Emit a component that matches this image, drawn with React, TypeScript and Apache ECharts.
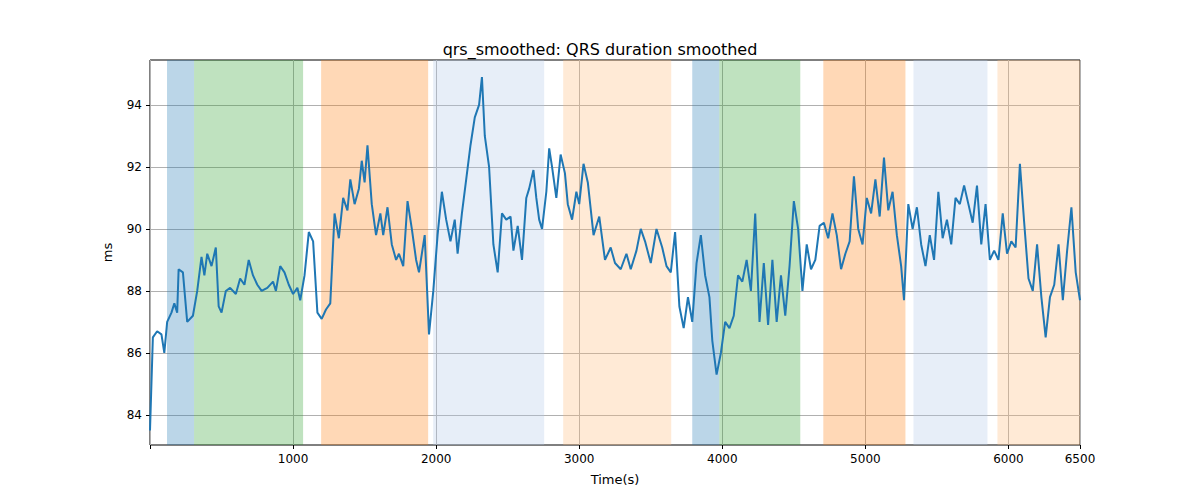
import React, { useEffect, useRef } from "react";
import * as echarts from "echarts";

const times = [0,20,50,80,100,120,150,170,190,200,230,260,300,330,360,380,400,430,460,480,500,530,560,600,630,660,690,720,750,780,820,860,880,910,940,970,1000,1030,1050,1080,1110,1140,1170,1200,1230,1260,1290,1320,1350,1380,1400,1430,1460,1480,1500,1520,1550,1580,1610,1630,1660,1690,1720,1740,1770,1800,1830,1860,1880,1920,1950,1980,2010,2040,2070,2100,2130,2150,2180,2210,2240,2270,2300,2320,2340,2370,2400,2430,2460,2490,2520,2540,2570,2600,2630,2650,2680,2700,2720,2740,2770,2790,2810,2840,2870,2900,2920,2950,2980,3000,3030,3060,3100,3140,3180,3220,3250,3290,3330,3360,3400,3430,3460,3500,3540,3580,3610,3640,3670,3700,3730,3760,3790,3820,3850,3880,3910,3930,3960,3990,4020,4050,4080,4110,4140,4170,4200,4230,4260,4290,4320,4350,4380,4410,4440,4470,4500,4530,4560,4590,4620,4650,4680,4710,4740,4770,4800,4830,4860,4890,4920,4950,4980,5010,5040,5070,5100,5130,5160,5190,5220,5250,5270,5300,5330,5360,5390,5420,5450,5480,5510,5540,5570,5600,5630,5660,5690,5720,5750,5780,5810,5840,5870,5900,5930,5960,5990,6020,6050,6080,6110,6140,6170,6200,6230,6260,6290,6320,6350,6380,6410,6440,6470,6500];
const qrs = [83.5,86.5,86.7,86.6,86.0,87.0,87.3,87.6,87.3,88.7,88.6,87.0,87.2,88.0,89.1,88.5,89.2,88.8,89.4,87.5,87.3,88.0,88.1,87.9,88.4,88.2,89.0,88.5,88.2,88.0,88.1,88.3,88.0,88.8,88.6,88.2,87.9,88.1,87.7,88.5,89.9,89.6,87.3,87.1,87.4,87.6,90.5,89.7,91.0,90.6,91.6,90.8,91.3,92.2,91.5,92.7,90.8,89.8,90.5,89.8,90.7,89.5,89.0,89.2,88.8,90.9,90.0,89.0,88.6,89.8,86.6,88.0,89.8,91.2,90.3,89.6,90.3,89.2,90.5,91.6,92.7,93.6,94.0,94.9,93.0,92.0,89.5,88.6,90.5,90.3,90.4,89.3,90.1,89.0,91.0,91.3,91.9,91.0,90.3,90.0,91.2,92.6,92.0,91.0,92.4,91.8,90.8,90.3,91.2,90.8,92.1,91.5,89.8,90.4,89.0,89.4,88.9,88.7,89.2,88.7,89.3,90.0,89.6,88.9,90.0,89.4,88.8,88.6,89.9,87.5,86.8,87.8,87.0,88.9,89.8,88.5,87.8,86.4,85.3,86.0,87.0,86.8,87.2,88.5,88.3,89.0,88.0,90.5,87.0,88.9,86.9,89.0,87.0,88.5,87.2,88.8,90.9,90.0,88.0,89.5,88.7,89.0,90.1,90.2,89.7,90.5,89.8,88.7,89.2,89.6,91.7,90.0,89.5,91.0,90.5,91.6,90.4,92.3,90.6,91.2,89.8,88.8,87.7,90.8,90.0,90.7,89.5,88.8,89.8,89.0,91.2,89.7,90.3,89.5,91.0,90.8,91.4,90.8,90.2,91.4,89.5,90.8,89.0,89.3,89.0,90.5,89.2,89.6,89.4,92.1,90.2,88.4,88.0,89.5,87.8,86.5,87.8,88.2,89.5,87.7,89.3,90.7,88.6,87.7];

const bandStarts = [119,308,1196,1979,2888,3790,3979,4706,5336,5923];
const bandEnds = [308,1070,1944,2755,3643,3979,4545,5280,5853,6500];
const bandColors = ["rgba(31,119,180,0.3)","rgba(44,160,44,0.3)","rgba(255,127,14,0.3)","rgba(174,199,232,0.3)","rgba(255,187,120,0.3)","rgba(31,119,180,0.3)","rgba(44,160,44,0.3)","rgba(255,127,14,0.3)","rgba(174,199,232,0.3)","rgba(255,187,120,0.3)"];
const yTicks = [84,86,88,90,92,94];

export default function App() {
  const ref = useRef<HTMLDivElement>(null);
  useEffect(() => {
    document.body.style.margin = "0";
    const chart = echarts.init(ref.current!, null, { renderer: "svg" });
    const font = "DejaVu Sans";
    chart.setOption({
      animation: false,
      textStyle: { fontFamily: font },
      title: { text: "qrs_smoothed: QRS duration smoothed", left: "center", top: 36, textStyle: { fontSize: 16, fontWeight: "normal", color: "#000", fontFamily: font } },
      grid: { left: 150, right: 120, top: 60, bottom: 55, show: true, borderColor: "#000", borderWidth: 1 },
      xAxis: {
        type: "value", min: 0, max: 6500, interval: 1000,
        name: "Time(s)", nameLocation: "middle", nameGap: 28, nameTextStyle: { fontSize: 13, color: "#000" },
        axisLine: { show: false }, axisTick: { show: true, length: 4, lineStyle: { color: "#000" } },
        axisLabel: { color: "#000", fontSize: 12, formatter: (v: number) => (v === 0 ? "" : String(v)) },
        splitLine: { show: true, lineStyle: { color: "#b0b0b0", width: 1 } },
      },
      yAxis: {
        type: "value", min: 83.03, max: 95.45,
        name: "ms", nameLocation: "middle", nameGap: 36, nameTextStyle: { fontSize: 13, color: "#000" },
        axisLine: { show: false },
        axisTick: { show: true, length: 4, lineStyle: { color: "#000" }, customValues: yTicks },
        axisLabel: { color: "#000", fontSize: 12, customValues: yTicks },
        splitLine: { show: true, lineStyle: { color: "#b0b0b0", width: 1 } },
      },
      series: [{
        type: "line", showSymbol: false, symbol: "none",
        data: times.map((t, i) => [t, qrs[i]]),
        lineStyle: { color: "#1f77b4", width: 2 },
        markArea: {
          silent: true,
          data: bandStarts.map((s, i) => [{ xAxis: s, itemStyle: { color: bandColors[i] } }, { xAxis: bandEnds[i] }]),
        },
      }],
    });
    return () => chart.dispose();
  }, []);
  return <div ref={ref} style={{ width: 1200, height: 500 }} />;
}
